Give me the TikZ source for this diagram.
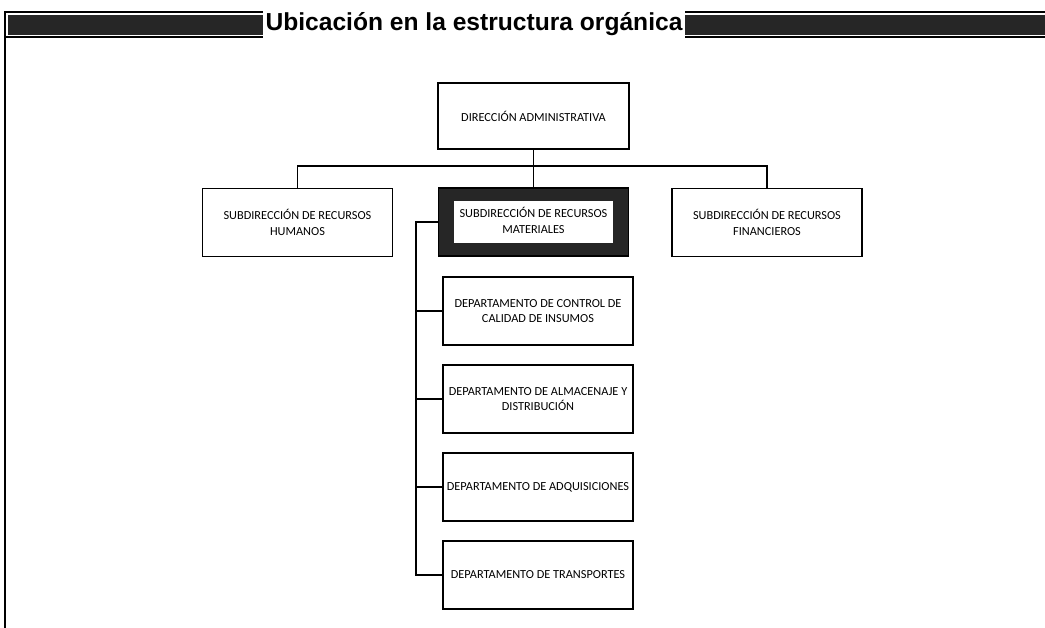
\documentclass[tikz,border=0pt]{standalone}
\usepackage{fontspec}
\setmainfont{Carlito}
\newfontfamily\headfont{Liberation Sans}
\begin{document}
\begin{tikzpicture}%
	[
	x={(0.02cm, 0cm)},
	y={(0cm, -0.02cm)},
	box/.style={draw=black, line width=1.1pt, align=center, inner sep=2pt, font=\fontsize{7}{9}\selectfont, minimum width=3.8cm, minimum height=1.36cm},
	hidbox/.style={box, fill=black!85},
	link/.style={draw=black, line width=1pt},
	frame/.style={draw=black, line width=0.9pt},
	band/.style={fill=black!85},
	title/.style={fill=white, inner sep=1.5pt, font=\headfont\bfseries\fontsize{14}{16}\selectfont}]

\useasboundingbox (0,0) rectangle (1045,628);

\fill[band] (8,15) rectangle (1045,35);
\draw[frame] (5,628) -- (5,12) -- (1045,12);
\draw[frame] (5,37) -- (1045,37);
\node[title] (head) at (474,24) {Ubicación en la estructura orgánica};

\node[box, minimum width=3.82cm, minimum height=1.32cm] (dir) at (533.5,116) {DIRECCIÓN ADMINISTRATIVA};
\node[box] (subrh) at (297.5,222.5) {SUBDIRECCIÓN DE RECURSOS\\HUMANOS};
\node[hidbox] (submat) at (533.5,222) {\colorbox{white}{\begin{tabular}{@{}c@{}}SUBDIRECCIÓN DE RECURSOS\\MATERIALES\end{tabular}}};
\node[box] (subfin) at (767,222.5) {SUBDIRECCIÓN DE RECURSOS\\FINANCIEROS};

\node[box] (ctrl) at (538,311) {DEPARTAMENTO DE CONTROL DE\\CALIDAD DE INSUMOS};
\node[box] (alm) at (538,399) {DEPARTAMENTO DE ALMACENAJE Y\\DISTRIBUCIÓN};
\node[box] (adq) at (538,487) {DEPARTAMENTO DE ADQUISICIONES};
\node[box] (trans) at (538,575) {DEPARTAMENTO DE TRANSPORTES};

\coordinate (bar) at (533.5,166);
\coordinate (spine) at (416,222);

\draw[link] (dir.south) -- (bar);
\draw[link] (subrh.north) |- (bar) -| (subfin.north);
\draw[link] (bar) -- (submat.north);
\draw[link] (submat.west) -- (spine) |- (trans.west);
\foreach \d in {ctrl,alm,adq}
	\draw[link] (\d.west -| spine) -- (\d.west);
\end{tikzpicture}
\end{document}
